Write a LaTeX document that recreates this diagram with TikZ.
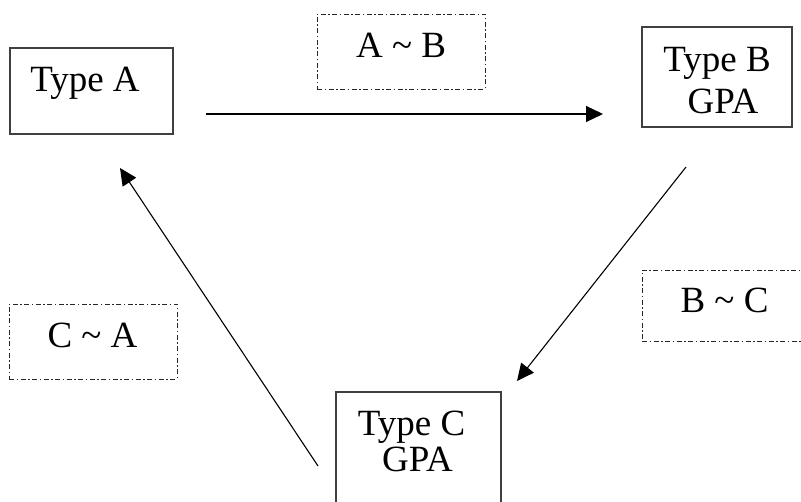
\documentclass[tikz,border=0pt]{standalone}
\usepackage{fontspec}
\setmainfont{Liberation Serif}
\usetikzlibrary{arrows.meta}
\newcommand{\tld}{\char"007E\relax}
\begin{document}
\begin{tikzpicture}[x=1pt,y=-1pt,
  solidbox/.style={draw=black!75,line width=1.3pt,minimum width=#1,inner sep=0pt},
  relbox/.style={draw=black!85,line width=0.9pt,dash pattern=on 5pt off 2.5pt on 1.5pt off 2.5pt,inner sep=0pt},
  lbl/.style={anchor=base,inner sep=0pt,font=\fontsize{37}{40}\selectfont},
  arr/.style={line width=1.1pt,-{Triangle[length=17pt,width=16pt]}}]
\clip (0,0) rectangle (801,502);
% boxes
\node[solidbox=163pt,minimum height=86pt] (A) at (91.5,91) {};
\node[solidbox=150pt,minimum height=100pt] (B) at (717,77) {};
\node[solidbox=165pt,minimum height=128pt] (C) at (418.5,456) {};
\node[relbox,minimum width=168pt,minimum height=75pt] (AB) at (401,51.5) {};
\node[relbox,minimum width=168pt,minimum height=71pt] (BC) at (726,305.5) {};
\node[relbox,minimum width=168pt,minimum height=75pt] (CA) at (93,341.5) {};
% texts
\node[lbl] (tA) at (85,92) {Type A};
\node[lbl] (tB1) at (717,72) {Type B};
\node[lbl] (tB2) at (723,114) {GPA};
\node[lbl] (tC1) at (411.5,436) {Type C};
\node[lbl] (tC2) at (417.5,472) {GPA};
\node[lbl] (tAB) at (401,58) {A \tld{} B};
\node[lbl] (tBC) at (724.5,313) {B \tld{} C};
\node[lbl] (tCA) at (92.5,348) {C \tld{} A};
% connector ends
\coordinate (abS) at (206,114);
\coordinate (abE) at (603,114);
\coordinate (bcS) at (686,167);
\coordinate (bcE) at (517,381);
\coordinate (caS) at (318,466);
\coordinate (caE) at (120,168);
\draw[arr] (abS) -- (abE);
\draw[arr] (bcS) -- (bcE);
\draw[arr] (caS) -- (caE);
\end{tikzpicture}
\end{document}
